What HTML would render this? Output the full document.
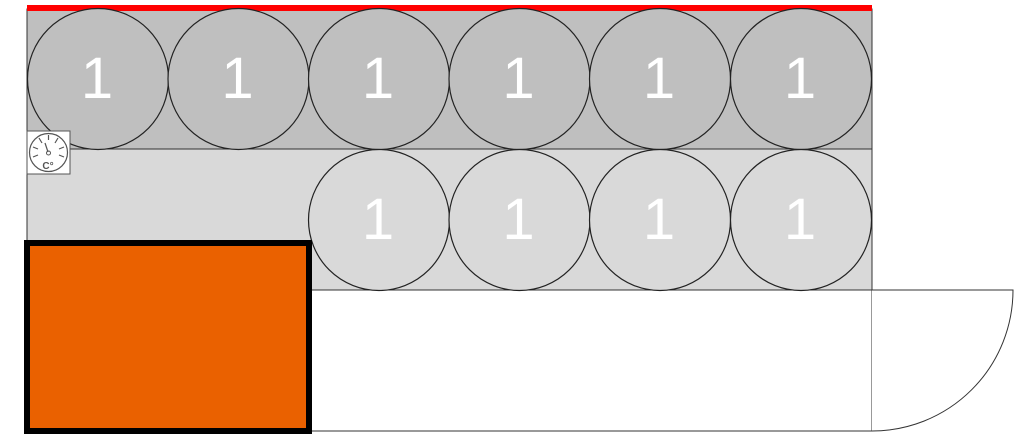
<!DOCTYPE html>
<html><head><meta charset="utf-8"><style>
html,body{margin:0;padding:0;background:#fff;width:1024px;height:448px;overflow:hidden}
svg{display:block}
text{font-family:"Liberation Sans",sans-serif}
</style></head><body>
<svg width="1024" height="448" viewBox="0 0 1024 448" xmlns="http://www.w3.org/2000/svg">
<rect x="27" y="9" width="845" height="140" fill="#bfbfbf" stroke="#333" stroke-width="1"/>
<rect x="27" y="149" width="845" height="141" fill="#d9d9d9" stroke="#333" stroke-width="1"/>
<rect x="27" y="290" width="845" height="141" fill="#fff" stroke="#333" stroke-width="1"/>
<path d="M872 290 L1013 290 A141 141 0 0 1 872 431" fill="#fff" stroke="#333" stroke-width="1"/>
<rect x="27" y="5" width="845" height="6" fill="#f00"/>
<g fill="#bfbfbf" stroke="#222" stroke-width="1.2">
<circle cx="98" cy="79" r="70.5"/><circle cx="238.5" cy="79" r="70.5"/><circle cx="379" cy="79" r="70.5"/>
<circle cx="519.5" cy="79" r="70.5"/><circle cx="660" cy="79" r="70.5"/><circle cx="801" cy="79" r="70.5"/>
</g>
<g fill="#d9d9d9" stroke="#222" stroke-width="1.2">
<circle cx="379" cy="220" r="70.5"/><circle cx="519.5" cy="220" r="70.5"/><circle cx="660" cy="220" r="70.5"/><circle cx="801" cy="220" r="70.5"/>
</g>
<g fill="#fff" font-size="58" text-anchor="middle">
<text x="97" y="98">1</text><text x="237.5" y="98">1</text><text x="378" y="98">1</text>
<text x="518.5" y="98">1</text><text x="659" y="98">1</text><text x="800" y="98">1</text>
<text x="378" y="239">1</text><text x="518.5" y="239">1</text><text x="659" y="239">1</text><text x="800" y="239">1</text>
</g>
<rect x="27" y="243" width="282" height="188" fill="#ea6100" stroke="#000" stroke-width="6"/>
<rect x="27" y="131" width="43" height="43" fill="#fff" stroke="#555" stroke-width="1"/>
<circle cx="48.5" cy="152.5" r="19" fill="#fff" stroke="#555" stroke-width="1.2"/>
<g stroke="#555" stroke-width="1.2">
<line x1="33" y1="157" x2="38" y2="155"/><line x1="33" y1="147" x2="38" y2="149"/><line x1="39" y1="138" x2="42" y2="143"/>
<line x1="48.5" y1="135" x2="48.5" y2="140"/><line x1="58" y1="138" x2="55" y2="143"/><line x1="64" y1="147" x2="59" y2="149"/><line x1="64" y1="157" x2="59" y2="155"/>
<line x1="45" y1="143" x2="48" y2="152"/>
</g>
<circle cx="48.5" cy="153" r="2" fill="none" stroke="#555"/>
<text x="48" y="169" font-size="10" font-weight="bold" fill="#555" text-anchor="middle">C°</text>
</svg>
</body></html>
